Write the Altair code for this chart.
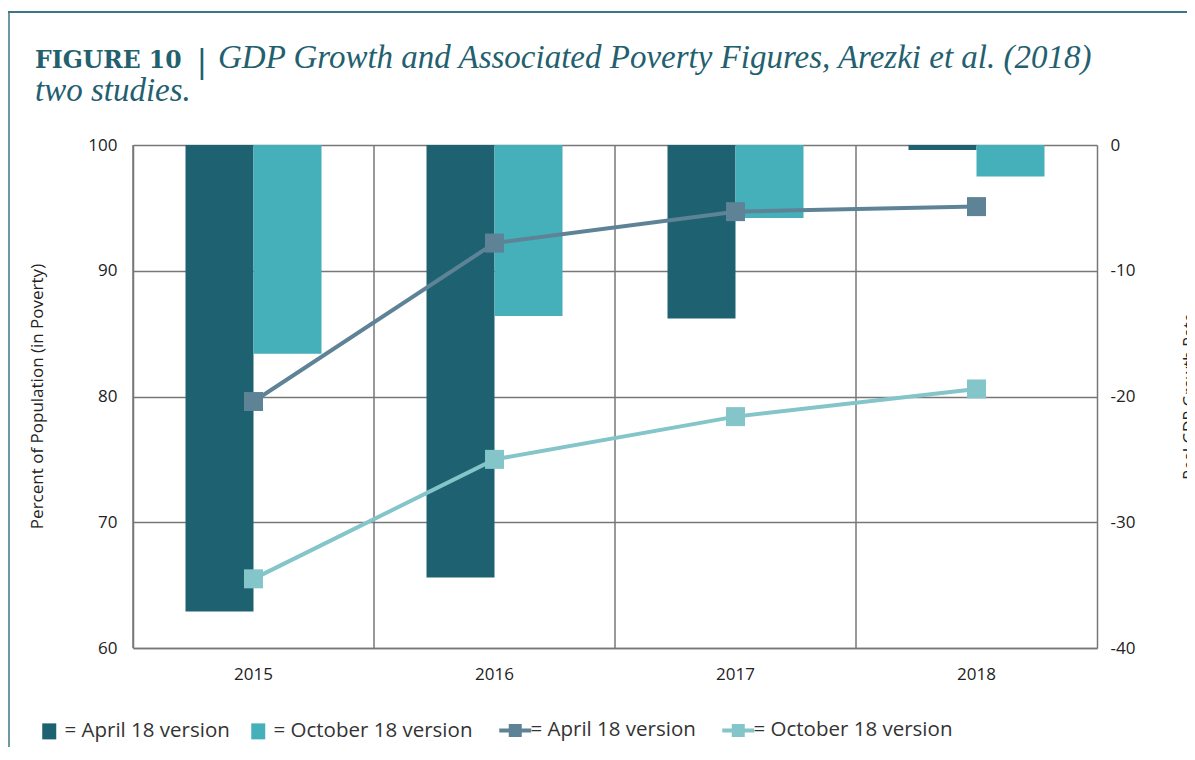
import altair as alt
import pandas as pd

# ---- data ----
years = ["2015", "2016", "2017", "2018"]
gdp_april = [-37.1, -34.4, -13.8, -0.4]      # Real GDP growth rate, April 18 version (bars)
gdp_october = [-16.6, -13.6, -5.8, -2.5]     # Real GDP growth rate, October 18 version (bars)
pov_april = [79.6, 92.2, 94.7, 95.1]         # Percent of population in poverty, April 18 (line)
pov_october = [65.5, 75.0, 78.4, 80.6]       # Percent of population in poverty, October 18 (line)

series_keys = ["bar_apr", "bar_oct", "line_apr", "line_oct"]
series_labels = ["= April 18 version", "= October 18 version",
                 "= April 18 version", "= October 18 version"]
series_colors = ["#1e6272", "#45b0b9", "#5e8396", "#84c5ca"]

title_bold = "FIGURE 10"
title_line1 = "GDP Growth and Associated Poverty Figures, Arezki et al. (2018)"
title_line2 = "two studies."
left_title = "Percent of Population (in Poverty)"
right_title = "Real GDP Growth Rate"

bars_df = pd.DataFrame({
    "year": years * 2,
    "version": ["April"] * 4 + ["October"] * 4,
    "series": ["bar_apr"] * 4 + ["bar_oct"] * 4,
    "gdp": gdp_april + gdp_october,
})
lines_df = pd.DataFrame({
    "year": years * 2,
    "series": ["line_apr"] * 4 + ["line_oct"] * 4,
    "poverty": pov_april + pov_october,
})
years_df = pd.DataFrame({"year": years})

FONT = "Open Sans"
TEAL = "#23606f"
GRID = "#777777"

label_expr = " : ".join(
    [f"datum.value == '{k}' ? '{l}'" for k, l in zip(series_keys, series_labels)]
) + " : ''"
is_line = "indexof(['line_apr','line_oct'], datum.value) >= 0"

legend = alt.Legend(
    orient="none", legendX=-94, legendY=575, direction="horizontal", columns=4,
    title=None, labelExpr=label_expr, labelFont=FONT, labelFontSize=20.5,
    labelColor="#333333", labelLimit=400, symbolSize=400, labelOffset=5,
    columnPadding=18, padding=0, symbolOpacity=1,
    symbolType={"expr": f"{is_line} ? 'M-1.6,0H-0.45M0.45,0H1.6M-0.45,-0.45H0.45V0.45H-0.45Z' : 'M-0.7,-0.8H0.7V0.8H-0.7Z'"},
    symbolFillColor={"expr": "scale('color', datum.value)"},
    symbolStrokeColor={"expr": "scale('color', datum.value)"},
    symbolStrokeWidth={"expr": f"{is_line} ? 4 : 0"},
)
color = alt.Color("series:N", scale=alt.Scale(domain=series_keys, range=series_colors), legend=legend)

x_axis = alt.Axis(title=None, labelAngle=0, ticks=False, grid=False, domain=True,
                  domainColor=GRID, domainWidth=1.5, labelFont=FONT, labelFontSize=17,
                  labelColor="#222222", labelPadding=18)
x_enc = alt.X("year:N", scale=alt.Scale(paddingInner=0, paddingOuter=0), axis=x_axis)

vrules = alt.Chart(years_df).mark_rule(color=GRID, strokeWidth=1.5).encode(
    x=alt.X("year:N", bandPosition=0, scale=alt.Scale(paddingInner=0, paddingOuter=0), axis=x_axis)
)

minus_fix = "datum.value < 0 ? '-' + abs(datum.value) : '' + datum.value"

bars = alt.Chart(bars_df).mark_bar(opacity=1).encode(
    x=x_enc,
    xOffset=alt.XOffset("version:N", scale=alt.Scale(domain=["April", "October"],
                                                     paddingInner=0, paddingOuter=0.772)),
    y=alt.Y("gdp:Q", scale=alt.Scale(domain=[-40, 0], nice=False),
            axis=alt.Axis(orient="right", values=[0, -10, -20, -30, -40], grid=False,
                          ticks=False, domain=True, domainColor=GRID, domainWidth=1.5,
                          labelFont=FONT, labelFontSize=17, labelColor="#222222",
                          labelPadding=13, labelExpr=minus_fix,
                          title=right_title, titleFont=FONT,
                          titleFontSize=16, titleFontWeight="normal", titleColor="#222222",
                          titleAngle=270, titleBaseline="top", titleAlign="center",
                          titleX=84, titleY=251)),
    y2=alt.datum(0),
    color=color,
)

lines = alt.Chart(lines_df).mark_line(
    strokeWidth=4,
    point=alt.OverlayMarkDef(shape="square", size=361, filled=True, opacity=1),
).encode(
    x=x_enc,
    y=alt.Y("poverty:Q", scale=alt.Scale(domain=[60, 100], nice=False),
            axis=alt.Axis(orient="left", values=[60, 70, 80, 90, 100], grid=True,
                          gridColor=GRID, gridWidth=1.5, ticks=False, domain=True,
                          domainColor=GRID, domainWidth=1.5, labelFont=FONT,
                          labelFontSize=17, labelColor="#222222", labelPadding=16,
                          title=left_title, titleFont=FONT, titleFontSize=17,
                          titleFontWeight="normal", titleColor="#222222",
                          titleAngle=270, titleBaseline="top", titleAlign="center",
                          titleX=-104, titleY=251)),
    color=color,
)

one = alt.Data(values=[{}])
frame_top = alt.Chart(one).mark_rule(color="#3d7686", strokeWidth=2).encode(
    x=alt.value(-125), x2=alt.value(1100), y=alt.value(-133))
frame_left = alt.Chart(one).mark_rule(color="#3d7686", strokeWidth=1.5).encode(
    x=alt.value(-124), y=alt.value(-133), y2=alt.value(700))

t_bold = alt.Chart(one).mark_text(font="DejaVu Serif", fontSize=23.5, fontWeight="bold",
                                  color=TEAL, align="left", baseline="alphabetic").encode(
    x=alt.value(-98), y=alt.value(-77), text=alt.value(title_bold))
t_bar = alt.Chart(one).mark_text(font="DejaVu Serif", fontSize=32, fontWeight="normal",
                                 color=TEAL, align="center", baseline="alphabetic").encode(
    x=alt.value(69), y=alt.value(-73), text=alt.value("|"))
t_l1 = alt.Chart(one).mark_text(font="Liberation Serif", fontSize=33, fontStyle="italic",
                                color=TEAL, align="left", baseline="alphabetic").encode(
    x=alt.value(85), y=alt.value(-77), text=alt.value(title_line1))
t_l2 = alt.Chart(one).mark_text(font="Liberation Serif", fontSize=33, fontStyle="italic",
                                color=TEAL, align="left", baseline="alphabetic").encode(
    x=alt.value(-98), y=alt.value(-44), text=alt.value(title_line2))

chart = alt.layer(vrules, bars, lines, frame_top, frame_left, t_bold, t_bar, t_l1, t_l2).resolve_scale(
    y="independent"
).properties(
    width=964, height=503,
    padding={"left": 125, "top": 137, "right": 90, "bottom": 99},
    autosize=alt.AutoSizeParams(type="none"),
    background="white",
).configure_view(stroke=None)

chart.save("out.html", embed_options={"renderer": "svg", "actions": False})
